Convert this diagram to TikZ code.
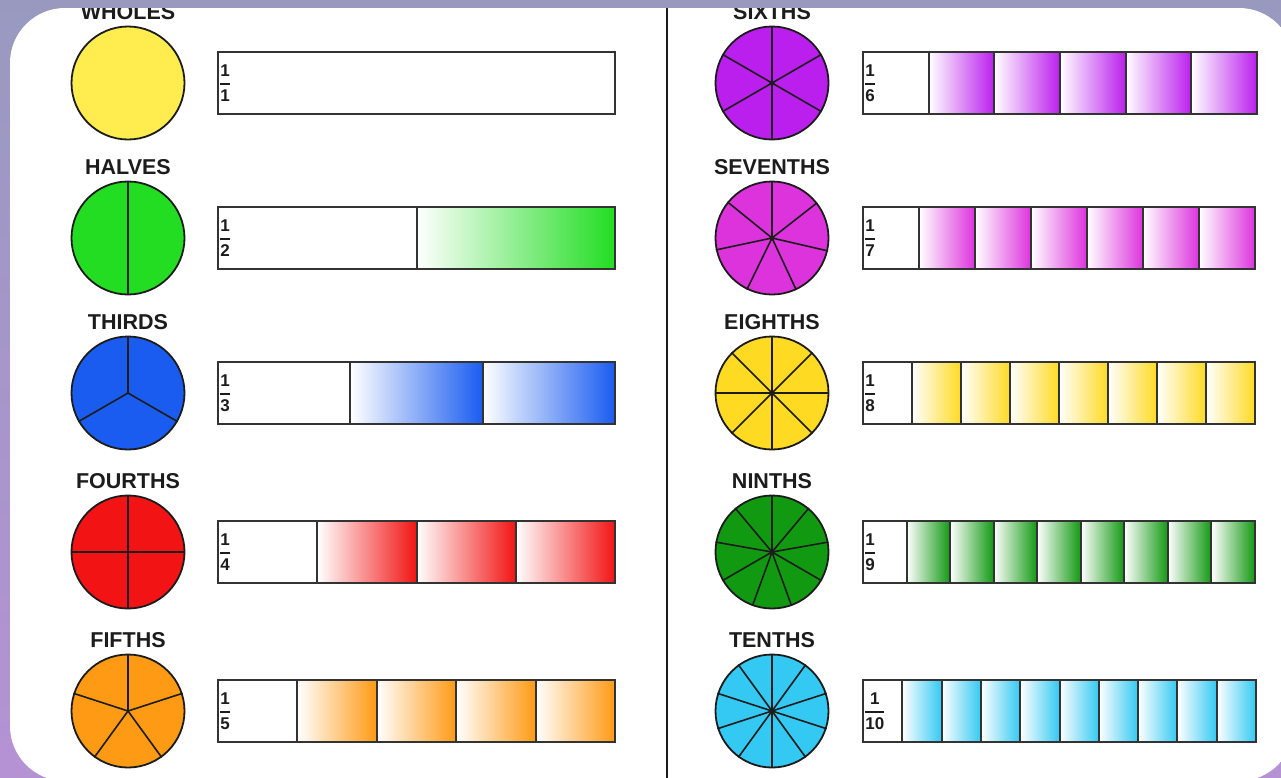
\documentclass[tikz,border=0pt]{standalone}
\usepackage{amsmath}
\usepackage{fontspec}
\setmainfont{Liberation Sans}
\usetikzlibrary{positioning}
\definecolor{framebg}{HTML}{9999C0}
\definecolor{framebgdark}{HTML}{B592D4}
\definecolor{ink}{HTML}{1C1C1C}
\definecolor{wholefill}{HTML}{FFEC4F}
\definecolor{halffill}{HTML}{22DD22}
\definecolor{thirdfill}{HTML}{1A5CF0}
\definecolor{fourthfill}{HTML}{F21414}
\definecolor{fifthfill}{HTML}{FF9A14}
\definecolor{sixthfill}{HTML}{BB1FEE}
\definecolor{seventhfill}{HTML}{DD33DD}
\definecolor{eighthfill}{HTML}{FFDA22}
\definecolor{ninthfill}{HTML}{129912}
\definecolor{tenthfill}{HTML}{33C9F2}
\tikzset{
  disc/.style={circle,draw=ink,line width=1.8pt,minimum size=113pt,inner sep=0pt},
  rowlabel/.style={font=\fontsize{21.5}{21.5}\selectfont\bfseries,text=ink,inner sep=0pt},
  spoke/.style={draw=ink,line width=1.6pt},
  barbox/.style={draw=ink!90,line width=2.2pt,minimum height=62pt,inner sep=0pt},
  barline/.style={draw=ink!90,line width=2pt},
  fracnum/.style={font=\fontsize{17}{17}\selectfont\bfseries,text=ink,inner sep=0pt},
  divider/.style={draw=ink,line width=2.4pt}
}

\begin{document}
\begin{tikzpicture}[x=1pt,y=-1pt]
  \useasboundingbox (0,0) rectangle (1281,777);
  \shade[top color=framebg,bottom color=framebgdark] (0,0) rectangle (1281,777);
  \begin{scope}
    \clip[rounded corners=55pt] (10,8) rectangle (1294,781);
    \fill[white] (0,0) rectangle (1300,790);
    \draw[divider] (667,0) -- (667,790);
    % one row per fraction: circle, name, strip
    \foreach \n/\lab/\col/\cx/\cy/\bl/\br in {
        1/WHOLES/wholefill/128/83/218/615,
        2/HALVES/halffill/128/238/218/615,
        3/THIRDS/thirdfill/128/393/218/615,
        4/FOURTHS/fourthfill/128/552/218/615,
        5/FIFTHS/fifthfill/128/711/218/615,
        6/SIXTHS/sixthfill/772/83/863/1257,
        7/SEVENTHS/seventhfill/772/238/863/1255,
        8/EIGHTHS/eighthfill/772/393/863/1255,
        9/NINTHS/ninthfill/772/552/863/1255,
        10/TENTHS/tenthfill/772/711/863/1256}{
      \node[disc,fill=\col] (c\n) at (\cx,\cy) {};
      \node[rowlabel,above=6pt of c\n] (l\n) {\lab};
      \pgfmathsetmacro\w{(\br-\bl)/\n}
      \ifnum\n>1
        \foreach \k in {1,...,\n}{
          \pgfmathsetmacro\a{90+360*(\k-1)/\n}
          \draw[spoke] (c\n.center) -- (c\n.\a);
        }
        \foreach \k in {2,...,\n}
          \shade[left color=white,right color=\col] ({\bl+(\k-1)*\w},\cy-31) rectangle ({\bl+\k*\w},\cy+31);
      \fi
      \ifnum\n>5 \fill[ink] (c\n.center) circle (2.6pt); \fi
      \node[barbox,minimum width={(\br-\bl)*1pt}] (b\n) at ({(\bl+\br)/2},\cy) {};
      \ifnum\n>1
        \foreach \k in {2,...,\n}
          \draw[barline] ({\bl+(\k-1)*\w},\cy-31) -- ({\bl+(\k-1)*\w},\cy+31);
      \fi
      \node[fracnum,anchor=west] (f\n) at ([xshift=2pt]b\n.west) {$\genfrac{}{}{1.6pt}{0}{\text{1}}{\text{\n}}$};
    }
  \end{scope}
\end{tikzpicture}
\end{document}
